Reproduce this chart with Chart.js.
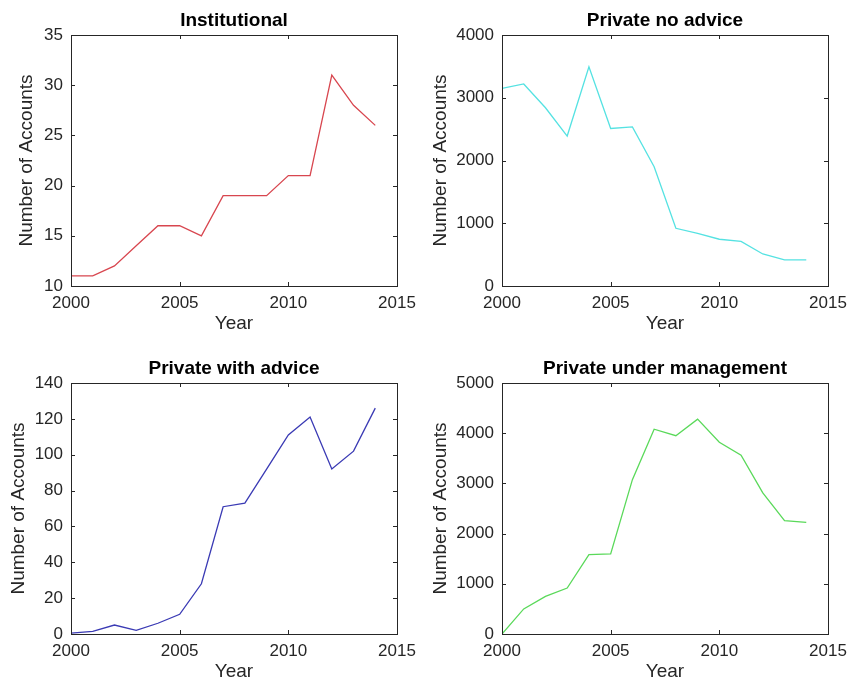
<!DOCTYPE html>
<html>
<head>
<meta charset="utf-8">
<script src="https://cdn.jsdelivr.net/npm/chart.js@4.4.1/dist/chart.umd.min.js"></script>
<style>
  html, body { margin: 0; padding: 0; background: #fff; }
  #wrap { position: relative; width: 850px; height: 681px; overflow: hidden; background: #fff; }
  canvas { position: absolute; }
</style>
</head>
<body>
<div id="wrap">
  <canvas id="c1" width="468" height="340" style="left:0px;top:0px"></canvas>
  <canvas id="c2" width="468" height="340" style="left:431px;top:0px"></canvas>
  <canvas id="c3" width="468" height="340" style="left:0px;top:348px"></canvas>
  <canvas id="c4" width="468" height="340" style="left:431px;top:348px"></canvas>
</div>
<script>
const years = [2000, 2001, 2002, 2003, 2004, 2005, 2006, 2007, 2008, 2009, 2010, 2011, 2012, 2013, 2014];
const institutional = [11, 11, 12, 14, 16, 16, 15, 19, 19, 19, 21, 21, 31, 28, 26];
const privateNoAdvice = [3150, 3220, 2840, 2390, 3495, 2510, 2535, 1900, 920, 840, 745, 710, 510, 415, 415];
const privateWithAdvice = [0.5, 1.5, 5, 2, 6, 11, 28, 71, 73, 92, 111, 121, 92, 102, 126];
const privateManaged = [0, 500, 750, 915, 1580, 1595, 3075, 4080, 3950, 4280, 3820, 3560, 2810, 2260, 2225];
const xTicks = [2000, 2005, 2010, 2015];

Chart.defaults.font.family = '"Liberation Sans", Arial, Helvetica, sans-serif';
Chart.defaults.color = '#262626';

// matlab-style box with inward ticks on all four sides
const boxTicks = {
  id: 'boxTicks',
  afterDatasetsDraw(chart) {
    const { ctx, chartArea: a, scales: { x, y } } = chart;
    const len = 4;
    ctx.save();
    ctx.strokeStyle = '#262626';
    ctx.lineWidth = 1;
    ctx.beginPath();
    x.ticks.forEach(t => {
      const px = Math.round(x.getPixelForValue(t.value)) + 0.5;
      ctx.moveTo(px, a.bottom); ctx.lineTo(px, a.bottom - len);
      ctx.moveTo(px, a.top); ctx.lineTo(px, a.top + len);
    });
    y.ticks.forEach(t => {
      const py = Math.round(y.getPixelForValue(t.value)) + 0.5;
      ctx.moveTo(a.left, py); ctx.lineTo(a.left + len, py);
      ctx.moveTo(a.right, py); ctx.lineTo(a.right - len, py);
    });
    ctx.stroke();
    ctx.strokeRect(Math.round(a.left) + 0.5, Math.round(a.top) + 0.5,
                   Math.round(a.right - a.left), Math.round(a.bottom - a.top));
    ctx.restore();
  }
};

const plain = v => String(v);

function panel(id, title, values, color, yMin, yMax, yStep, yTitlePad) {
  new Chart(document.getElementById(id), {
    type: 'line',
    data: {
      datasets: [{
        data: years.map((yr, i) => ({ x: yr, y: values[i] })),
        borderColor: color,
        borderWidth: 1.3,
        pointRadius: 0,
        tension: 0,
        fill: false
      }]
    },
    options: {
      responsive: false,
      animation: false,
      devicePixelRatio: 1,
      layout: { padding: 0 },
      plugins: {
        legend: { display: false },
        tooltip: { enabled: false },
        title: {
          display: true,
          text: title,
          color: '#000',
          font: { size: 19, weight: 'bold', lineHeight: 1.2 },
          padding: { top: 9.6, bottom: 2.6 }
        }
      },
      scales: {
        x: {
          type: 'linear',
          min: 2000,
          max: 2015,
          afterBuildTicks: s => { s.ticks = xTicks.map(v => ({ value: v })); },
          afterFit: s => { s.height = 54; },
          grid: { display: false },
          border: { display: false },
          ticks: { font: { size: 17 }, padding: -1, maxRotation: 0, autoSkip: false, callback: plain },
          title: { display: true, text: 'Year', font: { size: 19, lineHeight: 1 }, padding: { top: 0, bottom: 7 } }
        },
        y: {
          min: yMin,
          max: yMax,
          afterFit: s => { s.width = 71; },
          grid: { display: false },
          border: { display: false },
          ticks: { stepSize: yStep, font: { size: 17 }, padding: 0, callback: plain },
          title: { display: true, text: 'Number of Accounts', font: { size: 19, lineHeight: 1 }, padding: { top: yTitlePad, bottom: 0 } }
        },
        // empty right-hand spacer so the title centres over the plot box
        spacer: {
          position: 'right',
          afterFit: s => { s.width = 71; },
          grid: { display: false },
          border: { display: false },
          ticks: { display: false }
        }
      }
    },
    plugins: [boxTicks]
  });
}

panel('c1', 'Institutional', institutional, '#d8464f', 10, 35, 5, 17);
panel('c2', 'Private no advice', privateNoAdvice, '#55e2e2', 0, 4000, 1000, 0);
panel('c3', 'Private with advice', privateWithAdvice, '#3a3ab4', 0, 140, 20, 9);
panel('c4', 'Private under management', privateManaged, '#5ad95a', 0, 5000, 1000, 0);
</script>
</body>
</html>
